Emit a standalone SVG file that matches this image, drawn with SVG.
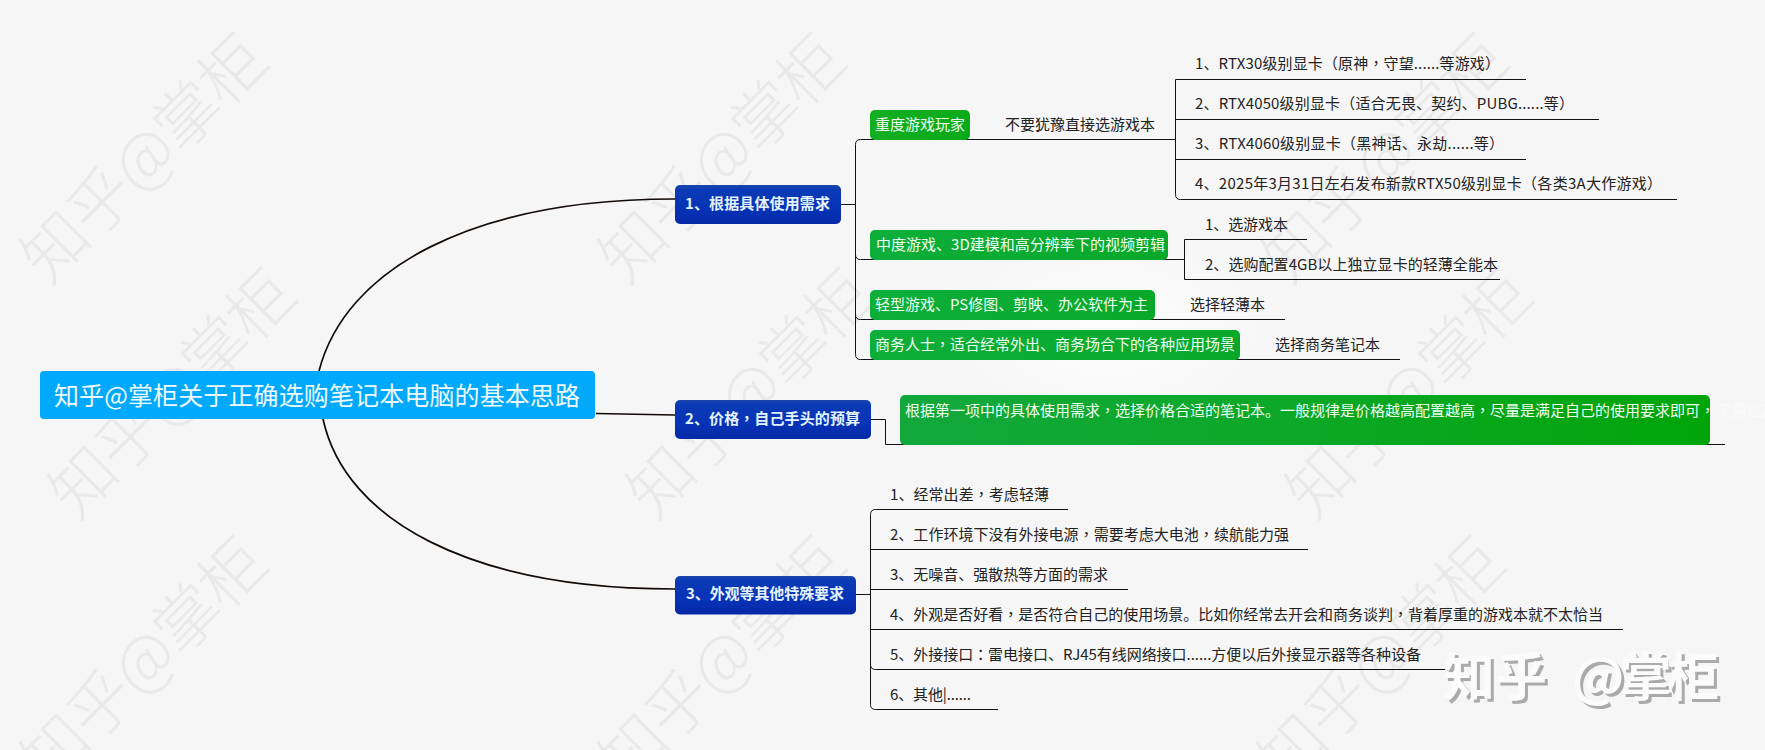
<svg xmlns="http://www.w3.org/2000/svg" width="1765" height="750" viewBox="0 0 1765 750">
<style>
text{font-family:"Noto Sans CJK SC","Microsoft YaHei","Liberation Sans",sans-serif;font-size:15px;fill:#222}
.wm{font-size:65px;fill:#e9e9e9;font-weight:300}
.gt{fill:#eefdf0;font-size:15px}
.bt{fill:#e2f3ff;font-size:15px;font-weight:700}
.c{fill:none;stroke:#111;stroke-width:1}
.cu{fill:none;stroke:#120a06;stroke-width:1.7}
.logo{font-size:52px;font-weight:700}
.p{font-family:"Noto Sans CJK TC",sans-serif}
</style>
<defs>
<linearGradient id="blue" x1="0" y1="0" x2="0" y2="1"><stop offset="0" stop-color="#1a48ac"/><stop offset=".12" stop-color="#0a3ab4"/><stop offset=".6" stop-color="#0733b8"/><stop offset="1" stop-color="#0529a6"/></linearGradient>
<linearGradient id="g1" x1="0" y1="0" x2="1" y2="0"><stop offset="0" stop-color="#14ae22"/><stop offset="1" stop-color="#0aab1a"/></linearGradient>
<linearGradient id="g2" x1="0" y1="0" x2="1" y2="0"><stop offset="0" stop-color="#0dae3a"/><stop offset="1" stop-color="#08a92a"/></linearGradient>
<linearGradient id="g3" x1="0" y1="0" x2="1" y2="0"><stop offset="0" stop-color="#12a83c"/><stop offset=".5" stop-color="#0ca826"/><stop offset="1" stop-color="#00a50a"/></linearGradient>
<radialGradient id="glow" cx=".5" cy=".5" r=".5"><stop offset="0" stop-color="#fff" stop-opacity=".7"/><stop offset="1" stop-color="#fff" stop-opacity="0"/></radialGradient>
</defs>
<rect width="1765" height="750" fill="#f6f6f6"/>
<ellipse cx="1110" cy="330" rx="190" ry="110" fill="url(#glow)"/>
<g id="watermarks">
<text class="wm" textLength="315" transform="translate(49 286) rotate(-45)">知乎@掌柜</text>
<text class="wm" textLength="315" transform="translate(77 521) rotate(-45)">知乎@掌柜</text>
<text class="wm" textLength="315" transform="translate(49 789) rotate(-45)">知乎@掌柜</text>
<text class="wm" textLength="315" transform="translate(627 286) rotate(-45)">知乎@掌柜</text>
<text class="wm" textLength="315" transform="translate(655 521) rotate(-45)">知乎@掌柜</text>
<text class="wm" textLength="315" transform="translate(627 789) rotate(-45)">知乎@掌柜</text>
<text class="wm" textLength="315" transform="translate(1290 286) rotate(-45)">知乎@掌柜</text>
<text class="wm" textLength="315" transform="translate(1314 521) rotate(-45)">知乎@掌柜</text>
<text class="wm" textLength="315" transform="translate(1286 789) rotate(-45)">知乎@掌柜</text>
</g>
<g id="connectors">
<path class="cu" d="M319 371C345 270 470 199 675 199"/>
<path class="cu" d="M323 419C345 520 470 589 675 589"/>
<path class="cu" d="M596 413.500L675 415"/>
<path class="c" d="M841 204.500H855.500"/>
<path class="c" d="M855.500 204.500V144.500Q855.500 139.500 860.500 139.500H1175.500"/>
<path class="c" d="M855.500 204.500V254.500Q855.500 259.500 860.500 259.500H1184.500"/>
<path class="c" d="M855.500 204.500V314.500Q855.500 319.500 860.500 319.500H1285"/>
<path class="c" d="M855.500 204.500V354.500Q855.500 359.500 860.500 359.500H1400"/>
<path class="c" d="M1175.500 79.500H1526M1175.500 119.500H1599M1175.500 159.500H1526M1175.500 79.500V194.500Q1175.500 199.500 1180.500 199.500H1677"/>
<path class="c" d="M1184.500 239.500H1307M1184.500 239.500V279.500H1500"/>
<path class="c" d="M871 419.500H885.500V444.500H1725"/>
<path class="c" d="M856 594.500H870.500"/>
<path class="c" d="M870.500 594.500V514.500Q870.500 509.500 875.500 509.500H1068"/>
<path class="c" d="M870.500 549.500H1308"/>
<path class="c" d="M870.500 589.500H1128"/>
<path class="c" d="M870.500 629.500H1623"/>
<path class="c" d="M870.500 594.500V664.500Q870.500 669.500 875.500 669.500H1445"/>
<path class="c" d="M870.500 594.500V704.500Q870.500 709.500 875.500 709.500H998"/>
</g>
<g id="root"><rect x="40" y="371" width="555" height="48" rx="4" fill="#00a9fb"/><text x="54" y="405" textLength="526" style="font-size:25px;fill:#eef9ff">知乎@掌柜关于正确选购笔记本电脑的基本思路</text></g>
<g id="n1"><rect x="675" y="185" width="166" height="39" rx="5" fill="url(#blue)"/><text class="bt" x="685" y="209" textLength="145">1、根据具体使用需求</text></g>
<g id="n2"><rect x="675" y="400" width="196" height="39" rx="5" fill="url(#blue)"/><text class="bt" x="685" y="424" textLength="175">2、价格<tspan class="p">，</tspan>自己手头的预算</text></g>
<g id="n3"><rect x="675" y="576" width="181" height="38.500" rx="5" fill="url(#blue)"/><text class="bt" x="686" y="599" textLength="158">3、外观等其他特殊要求</text></g>
<g id="n1-1"><rect x="870" y="110" width="100" height="30" rx="5" fill="url(#g1)"/><text class="gt" x="875" y="130">重度游戏玩家</text></g>
<g id="n1-2"><rect x="870" y="230" width="298" height="30" rx="5" fill="url(#g2)"/><text class="gt" x="876" y="250" textLength="289">中度游戏、3D建模和高分辨率下的视频剪辑</text></g>
<g id="n1-3"><rect x="870" y="290" width="285" height="30" rx="5" fill="url(#g2)"/><text class="gt" x="875" y="310" textLength="273">轻型游戏、PS修图、剪映、办公软件为主</text></g>
<g id="n1-4"><rect x="870" y="330" width="370" height="30" rx="5" fill="url(#g2)"/><text class="gt" x="875" y="350" textLength="360">商务人士<tspan class="p">，</tspan>适合经常外出、商务场合下的各种应用场景</text></g>
<g id="n2-1"><rect x="900" y="395" width="810" height="50" rx="5" fill="url(#g3)"/><text class="gt" x="905" y="416" textLength="810">根据第一项中的具体使用需求<tspan class="p">，</tspan>选择价格合适的笔记本。一般规律是价格越高配置越高<tspan class="p">，</tspan>尽量是满足自己的使用要求即可<tspan class="p">，</tspan></text><text x="1717" y="416" style="fill:#fff;opacity:.6">无需过高</text></g>
<g id="t1"><text x="1005" y="130">不要犹豫直接选游戏本</text></g>
<g id="t1-1"><text x="1195" y="69" textLength="305">1、RTX30级别显卡（原神<tspan class="p">，</tspan>守望......等游戏）</text></g>
<g id="t1-2"><text x="1195" y="109" textLength="379">2、RTX4050级别显卡（适合无畏、契约、PUBG......等）</text></g>
<g id="t1-3"><text x="1195" y="149" textLength="309">3、RTX4060级别显卡（黑神话、永劫......等）</text></g>
<g id="t1-4"><text x="1195" y="189" textLength="467">4、2025年3月31日左右发布新款RTX50级别显卡（各类3A大作游戏）</text></g>
<g id="t2-1"><text x="1205" y="230" textLength="83">1、选游戏本</text></g>
<g id="t2-2"><text x="1205" y="270" textLength="293">2、选购配置4GB以上独立显卡的轻薄全能本</text></g>
<g id="t3"><text x="1190" y="310">选择轻薄本</text></g>
<g id="t4"><text x="1275" y="350">选择商务笔记本</text></g>
<g id="t5-1"><text x="890" y="500" textLength="159">1、经常出差<tspan class="p">，</tspan>考虑轻薄</text></g>
<g id="t5-2"><text x="890" y="540" textLength="399">2、工作环境下没有外接电源<tspan class="p">，</tspan>需要考虑大电池<tspan class="p">，</tspan>续航能力强</text></g>
<g id="t5-3"><text x="890" y="580" textLength="218">3、无噪音、强散热等方面的需求</text></g>
<g id="t5-4"><text x="890" y="620" textLength="713">4、外观是否好看<tspan class="p">，</tspan>是否符合自己的使用场景。比如你经常去开会和商务谈判<tspan class="p">，</tspan>背着厚重的游戏本就不太恰当</text></g>
<g id="t5-5"><text x="890" y="660" textLength="531">5、外接接口<tspan class="p">：</tspan>雷电接口、RJ45有线网络接口......方便以后外接显示器等各种设备</text></g>
<g id="t5-6"><text x="890" y="700" textLength="81">6、其他|......</text></g>
<g id="logo">
<text class="logo" x="1446" y="699" style="fill:#aaa">知乎</text>
<text class="logo" x="1575" y="699" textLength="147" style="fill:#aaa">@掌柜</text>
<text class="logo" x="1443" y="696" style="fill:#fbfbfb">知乎</text>
<text class="logo" x="1572" y="696" textLength="147" style="fill:#fbfbfb">@掌柜</text>
</g>
</svg>
